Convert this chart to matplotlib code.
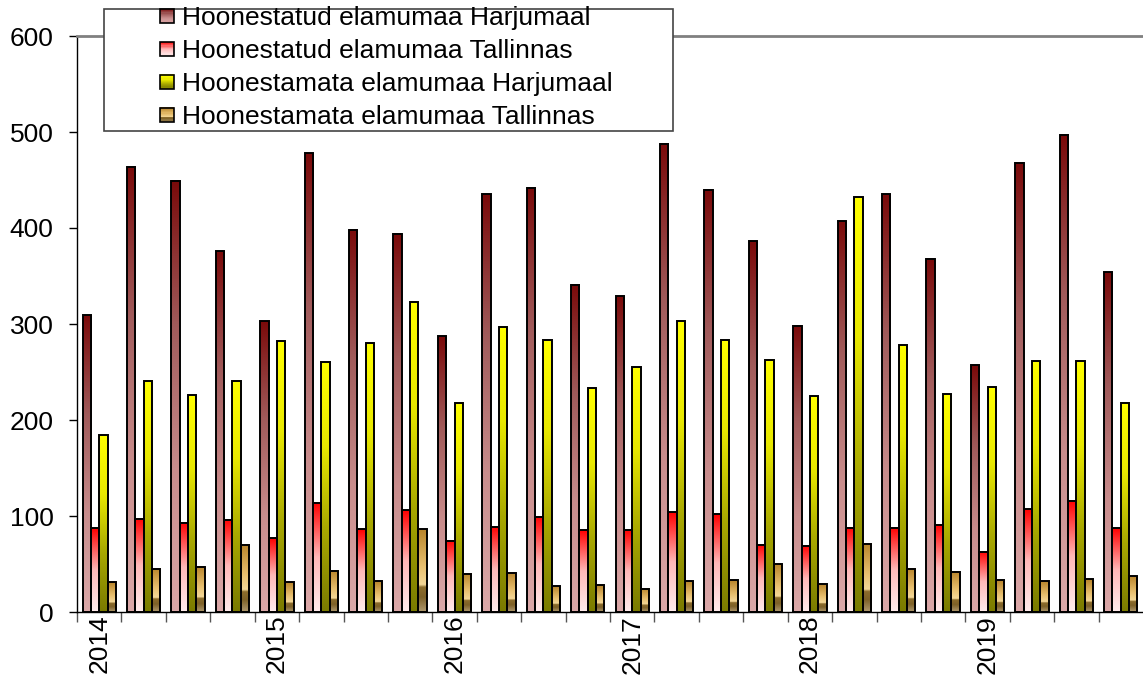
import numpy as np
import matplotlib.pyplot as plt
from matplotlib.colors import LinearSegmentedColormap
from matplotlib.patches import Rectangle
from matplotlib.legend_handler import HandlerPatch

plt.rcParams['font.family'] = ['Liberation Sans', 'DejaVu Sans']

years = ['2014', '2015', '2016', '2017', '2018', '2019']
series_names = ['Hoonestatud elamumaa Harjumaal',
                'Hoonestatud elamumaa Tallinnas',
                'Hoonestamata elamumaa Harjumaal',
                'Hoonestamata elamumaa Tallinnas']

# quarterly values 2014 Q1 .. 2019 Q4
built_harju = [309, 464, 449, 376, 303, 478, 398, 394, 287, 435, 442, 341,
               329, 488, 440, 386, 298, 407, 435, 368, 257, 468, 497, 354]
built_tln = [87, 97, 93, 96, 77, 114, 86, 106, 74, 89, 99, 85,
             85, 104, 102, 70, 69, 88, 88, 91, 63, 107, 116, 87]
unbuilt_harju = [184, 241, 226, 241, 282, 260, 280, 323, 218, 297, 283, 233,
                 255, 303, 283, 263, 225, 432, 278, 227, 234, 261, 261, 218]
unbuilt_tln = [31, 45, 47, 70, 31, 43, 32, 86, 40, 41, 27, 28,
               24, 32, 33, 50, 29, 71, 45, 42, 33, 32, 34, 37]

# vertical gradients, listed bottom -> top
cmaps = [
    LinearSegmentedColormap.from_list('c0', ['#dba8a8', '#c88c8c', '#a05a5a', '#7a0a0a']),
    LinearSegmentedColormap.from_list('c1', ['#ffecec', '#ffb8b8', '#ff0000']),
    LinearSegmentedColormap.from_list('c2', ['#7a7a00', '#a8a800', '#e8e800', '#ffff00']),
    LinearSegmentedColormap.from_list('c3', [(0.0, '#b09a70'), (0.18, '#7d6128'),
                                             (0.30, '#8c6c2c'), (0.33, '#f4d898'),
                                             (0.55, '#e8c070'), (1.0, '#b8842a')]),
]


class GradientHandler(HandlerPatch):
    def __init__(self, cmap):
        super().__init__()
        self.cmap = cmap

    def create_artists(self, legend, orig_handle, xdescent, ydescent,
                       width, height, fontsize, trans):
        side = height * 0.75
        x0 = -xdescent + width - side
        y0 = -ydescent + (height - side) / 2
        arts = []
        n = 12
        for k in range(n):
            r = Rectangle((x0, y0 + side * k / n), side, side / n + 0.3,
                          facecolor=self.cmap((k + 0.5) / n), edgecolor='none',
                          transform=trans)
            arts.append(r)
        arts.append(Rectangle((x0, y0), side, side, facecolor='none',
                              edgecolor='black', lw=1.2, transform=trans))
        return arts


def main():
    fig = plt.figure(figsize=(11.43, 6.81), dpi=100)
    W, H = 1143, 681
    ax = fig.add_axes([77 / W, (H - 612) / H, (1143 - 77) / W, (612 - 36) / H])

    data = [built_harju, built_tln, unbuilt_harju, unbuilt_tln]
    n = len(built_harju)
    grad = np.linspace(0, 1, 256).reshape(-1, 1)
    bw = 0.1875
    for j, vals in enumerate(data):
        for i, v in enumerate(vals):
            x0 = i + 0.125 + j * bw
            ax.imshow(grad, cmap=cmaps[j], origin='lower', aspect='auto',
                      extent=[x0, x0 + bw, 0, v], zorder=2, interpolation='bilinear')
            ax.add_patch(Rectangle((x0, 0), bw, v, facecolor='none',
                                   edgecolor='black', lw=1.4, zorder=3))

    ax.set_xlim(0, n)
    ax.set_ylim(0, 600)
    ax.set_yticks(range(0, 601, 100))
    ax.tick_params(axis='y', labelsize=19, length=6, width=1, direction='out', pad=11)
    ax.set_xticks(np.arange(0, n))
    ax.set_xticks(np.arange(0, n, 4) + 0.5, minor=True)
    ax.set_xticklabels([])
    ax.set_xticklabels(years, minor=True, rotation=90, fontsize=19)
    ax.tick_params(axis='x', which='major', length=7, width=1, color='#555555')
    ax.tick_params(axis='x', which='minor', length=0, pad=2)

    ax.spines['top'].set_color('#808080')
    ax.spines['top'].set_linewidth(2)
    ax.spines['right'].set_visible(False)
    ax.spines['left'].set_linewidth(1)
    ax.spines['bottom'].set_linewidth(1)
    ax.set_facecolor('white')

    # legend box
    fig.patches.append(Rectangle((104 / W, 1 - 131 / H), (673 - 104) / W, (131 - 9) / H,
                                 transform=fig.transFigure, facecolor='white',
                                 edgecolor='#444444', lw=1.2, zorder=5))
    handles = [Rectangle((0, 0), 1, 1) for _ in series_names]
    hmap = {h: GradientHandler(c) for h, c in zip(handles, cmaps)}
    leg = fig.legend(handles, series_names, loc='upper left',
                     bbox_to_anchor=(132 / W, 1 + 15 / H), frameon=False,
                     fontsize=19, handler_map=hmap, handlelength=0.8,
                     handletextpad=0.3, labelspacing=0.34, borderpad=0.3)
    leg.set_zorder(6)

    fig.savefig('out.png', dpi=100)


if __name__ == '__main__':
    main()
